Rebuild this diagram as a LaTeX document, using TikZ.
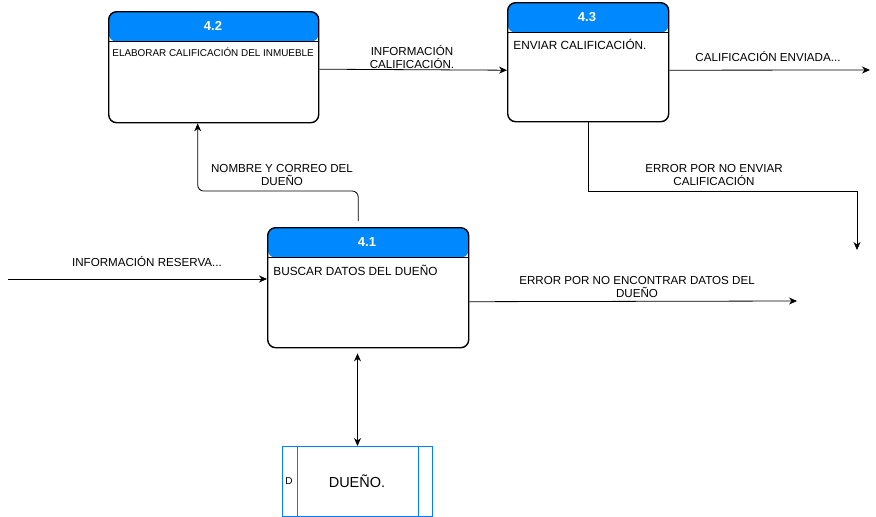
\documentclass[tikz,border=0pt]{standalone}
\usepackage{fontspec}
\setmainfont{Liberation Sans}
\usetikzlibrary{arrows.meta}
\definecolor{hdrblue}{RGB}{0,136,255}
\definecolor{storeblue}{RGB}{0,127,255}
\begin{document}
\begin{tikzpicture}[x=1pt, y=-1pt, >={Stealth[length=8pt,width=7pt]}, line width=0.8pt,
proc/.style={draw, line width=1.4pt, rounded corners=8pt, inner sep=0pt, anchor=north west,
  path picture={\fill[hdrblue] (path picture bounding box.north west) rectangle ([yshift=-30pt]path picture bounding box.north east);
  \draw[line width=0.8pt] ([yshift=-30pt]path picture bounding box.north west) -- ([yshift=-30pt]path picture bounding box.north east);}},
hdr/.style={text=white, font=\fontsize{13}{15}\selectfont\bfseries},
body/.style={anchor=west, inner sep=0pt, font=\fontsize{11.8}{13}\selectfont},
lbl/.style={align=center, inner sep=0pt, font=\fontsize{11.6}{13.5}\selectfont}]
\useasboundingbox (0,0) rectangle (876,517);
% processes
\node[proc, minimum width=210pt, minimum height=111pt] (p42) at (108,11) {};
\node[proc, minimum width=161pt, minimum height=119pt] (p43) at (507,2) {};
\node[proc, minimum width=201pt, minimum height=120pt] (p41) at (267,227) {};
\node[hdr] (h42) at (213,26) {4.2};
\node[hdr] (h43) at (587,17) {4.3};
\node[hdr] (h41) at (367,242) {4.1};
\node[body, font=\fontsize{9.9}{11}\selectfont] (t42) at (112,52) {ELABORAR CALIFICACIÓN DEL INMUEBLE};
\node[body] (t43) at (513,44) {ENVIAR CALIFICACIÓN.};
\node[body] (t41) at (273,270) {BUSCAR DATOS DEL DUEÑO};
% data store
\node[draw=storeblue, line width=1pt, minimum width=150pt, minimum height=70pt, inner sep=0pt, anchor=north west] (d1) at (282,446) {};
\draw[storeblue, line width=1pt] ([xshift=15pt]d1.north west) -- ([xshift=15pt]d1.south west);
\draw[storeblue, line width=1pt] ([xshift=-15pt]d1.north east) -- ([xshift=-15pt]d1.south east);
\node[font=\fontsize{10}{12}\selectfont, inner sep=0pt] (dl) at (289,481) {D};
\node[font=\fontsize{14.5}{16}\selectfont, inner sep=0pt] (dn) at (357,481) {DUEÑO.};
% free ends
\coordinate (in41) at (8,279);
\coordinate (o43) at (870,70);
\coordinate (e43) at (857,250);
\coordinate (e41) at (797,301);
% flows
\draw[->] ([yshift=-2pt]p42.east) -- ([yshift=-8pt]p43.west);
\draw[->] ([yshift=-8pt]p43.east) -- (o43);
\draw[->] (p43.south) -- ++(0,69) -| (e43);
\draw[->] (in41) -- (in41 -| p41.west);
\draw[->, rounded corners=6pt] ([xshift=-10pt,yshift=6pt]p41.north) -- ++(0,-30) -| ([xshift=-16pt]p42.south);
\draw[->] ([yshift=-14pt]p41.east) -- (e41);
\draw[<->] ([yshift=-5pt]d1.north |- p41.south) -- (d1.north);
% labels
\node[lbl] (l1) at (412,57) {INFORMACIÓN\\CALIFICACIÓN.};
\node[lbl] (l2) at (768,57) {CALIFICACIÓN ENVIADA...};
\node[lbl] (l3) at (714,175) {ERROR POR NO ENVIAR\\CALIFICACIÓN};
\node[lbl] (l4) at (147,262) {INFORMACIÓN RESERVA...};
\node[lbl] (l5) at (282,175) {NOMBRE Y CORREO DEL\\DUEÑO};
\node[lbl] (l6) at (637,287) {ERROR POR NO ENCONTRAR DATOS DEL\\DUEÑO};
\end{tikzpicture}
\end{document}
